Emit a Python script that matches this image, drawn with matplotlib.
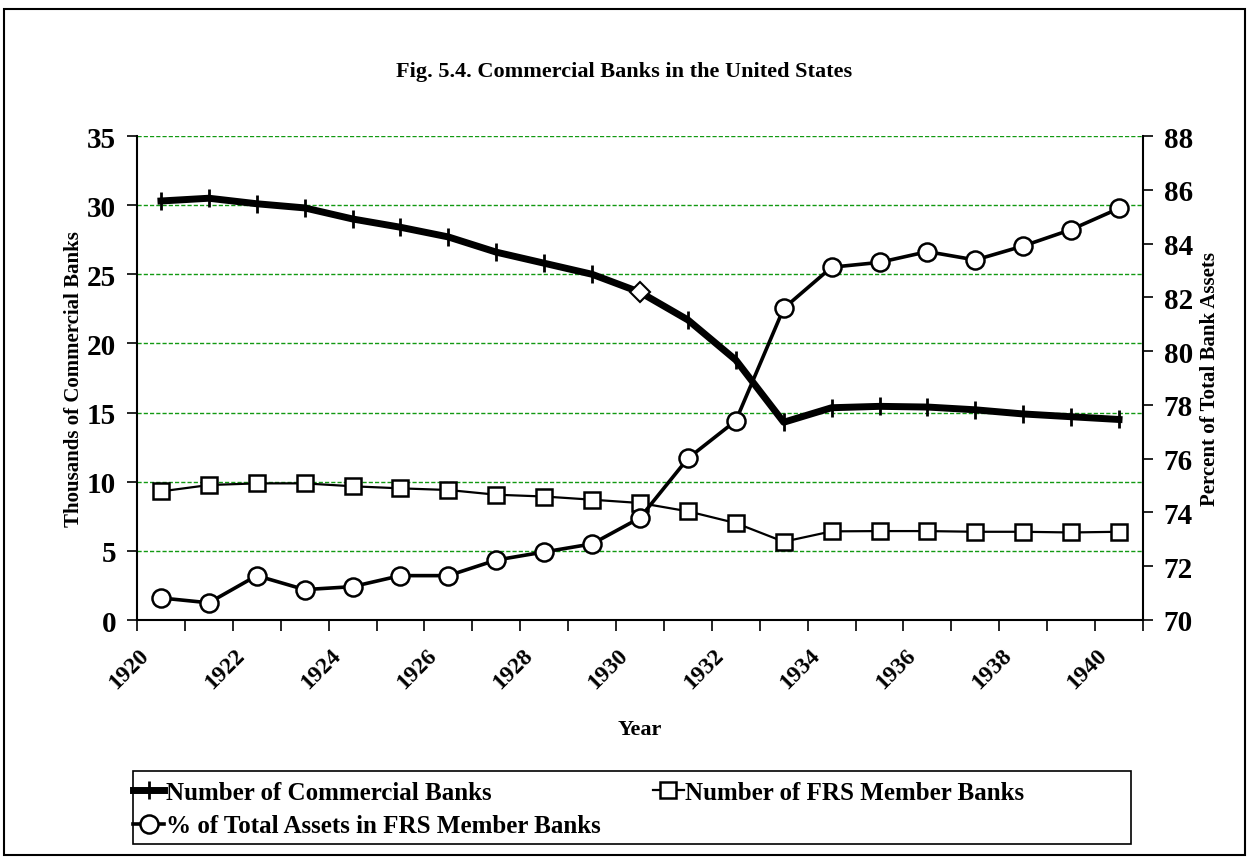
import numpy as np
import matplotlib
matplotlib.use("Agg")
import matplotlib.pyplot as plt
import matplotlib.transforms as mtransforms
from matplotlib.patches import Rectangle
from matplotlib.lines import Line2D

plt.rcParams["font.family"] = ["Liberation Serif", "DejaVu Serif"]
plt.rcParams["font.weight"] = "bold"

years = list(range(1920, 1941))
# thousands of banks
commercial_banks = [30.3, 30.5, 30.1, 29.8, 29.0, 28.4, 27.7, 26.6, 25.8, 25.0,
                    23.7, 21.7, 18.8, 14.3, 15.35, 15.45, 15.4, 15.2, 14.9, 14.7, 14.5]
member_banks = [9.3, 9.76, 9.88, 9.88, 9.67, 9.52, 9.4, 9.06, 8.93, 8.7,
                8.46, 7.86, 7.01, 5.66, 6.41, 6.43, 6.43, 6.38, 6.38, 6.33, 6.38]
# percent of total bank assets held by FRS members
pct_assets_frs = [70.82, 70.64, 71.65, 71.13, 71.24, 71.65, 71.65, 72.23, 72.53, 72.83,
                  73.8, 76.01, 77.41, 81.59, 83.12, 83.3, 83.7, 83.39, 83.91, 84.52, 85.31]
year_labels = [str(y) for y in years[::2]]

W, H = 1248, 862
fig = plt.figure(figsize=(W / 100, H / 100), dpi=100)

# outer chart border
fig.patches.append(Rectangle((4 / W, 1 - 856 / H), 1241 / W, 846 / H,
                             transform=fig.transFigure, fill=False,
                             edgecolor="black", linewidth=1.5))
# legend box (drawn separately so the columns keep their natural spacing)
fig.patches.append(Rectangle((133 / W, 1 - 845 / H), (1131 - 133) / W, 73 / H,
                             transform=fig.transFigure, fill=False,
                             edgecolor="black", linewidth=1.2))

ax = fig.add_axes([137 / W, 1 - 621 / H, (1143 - 137) / W, (621 - 137) / H])
ax2 = ax.twinx()

x = np.arange(len(years))
ax.set_xlim(-0.5, len(years) - 0.5)
ax.set_ylim(0, 35)
ax2.set_ylim(70, 88)

# green dashed gridlines on the left scale
for v in range(5, 36, 5):
    ax.axhline(v, color="#129912", lw=1.0, ls=(0, (3, 1.5)), zorder=0)

ax.plot(x, commercial_banks, color="black", lw=5, marker="|", ms=13, mew=2,
        zorder=3)
ax.plot(x[10], commercial_banks[10], marker="D", ms=10, mfc="white", mec="black",
        mew=1.5, ls="none", zorder=4)
ax.plot(x, member_banks, color="black", lw=1.6, marker="s", ms=12, mfc="white",
        mec="black", mew=1.8, zorder=3)
ax2.plot(x, pct_assets_frs, color="black", lw=2.6, marker="o", ms=13, mfc="white",
         mec="black", mew=1.8, zorder=3)

# axes styling
for a in (ax, ax2):
    a.spines["top"].set_visible(False)
ax.spines["right"].set_visible(False)
ax2.spines["left"].set_visible(False)
ax2.spines["bottom"].set_visible(False)
ax.spines["left"].set_linewidth(1.5)
ax.spines["bottom"].set_linewidth(1.5)
ax2.spines["right"].set_linewidth(1.5)

ax.set_yticks(range(0, 36, 5))
ax2.set_yticks(range(70, 89, 2))
ax.tick_params(axis="y", direction="out", length=7, width=1.2, labelsize=21, pad=8)
ax2.tick_params(axis="y", direction="out", length=7, width=1.2, labelsize=21, pad=8)

# ticks between categories, labels on every other year
ax.set_xticks(np.arange(-0.5, len(years), 1.0))
ax.set_xticklabels([])
ax.tick_params(axis="x", which="major", direction="out", length=8, width=1.2)
ax.set_xticks(x[::2], minor=True)
ax.set_xticklabels(year_labels, minor=True, rotation=45, ha="right",
                   va="center", rotation_mode="anchor", fontsize=17)
ax.tick_params(axis="x", which="minor", length=0, pad=23)
shift = mtransforms.ScaledTranslation(-15 / 100, 0, fig.dpi_scale_trans)
for lbl in ax.get_xticklabels(minor=True):
    lbl.set_transform(lbl.get_transform() + shift)

ax.set_ylabel("Thousands of Commercial Banks", fontsize=15, fontweight="bold",
              labelpad=2)
ax2.set_ylabel("Percent of Total Bank Assets", fontsize=15, fontweight="bold",
               labelpad=5)
fig.text(640 / W, 1 - 730 / H, "Year", ha="center", va="center", fontsize=16,
         fontweight="bold")
fig.text(624 / W, 1 - 72 / H, "Fig. 5.4. Commercial Banks in the United States",
         ha="center", va="center", fontsize=16, fontweight="bold")

handles = [
    Line2D([], [], color="black", lw=5, marker="|", ms=13, mew=2),
    Line2D([], [], color="black", lw=2.6, marker="o", ms=13, mfc="white", mec="black", mew=1.8),
    Line2D([], [], color="black", lw=1.6, marker="s", ms=12, mfc="white", mec="black", mew=1.8),
]
labels = ["Number of Commercial Banks", "% of Total Assets in FRS Member Banks",
          "Number of FRS Member Banks"]
leg = fig.legend(handles, labels, ncol=2, loc="upper left",
                 bbox_to_anchor=(133 / W, 1 - 782 / H),
                 frameon=False, handlelength=1.25, handletextpad=0.05,
                 borderaxespad=0, borderpad=0, labelspacing=0.42,
                 columnspacing=2.1,
                 prop={"weight": "bold", "size": 18})

fig.savefig("out.png", dpi=100)
